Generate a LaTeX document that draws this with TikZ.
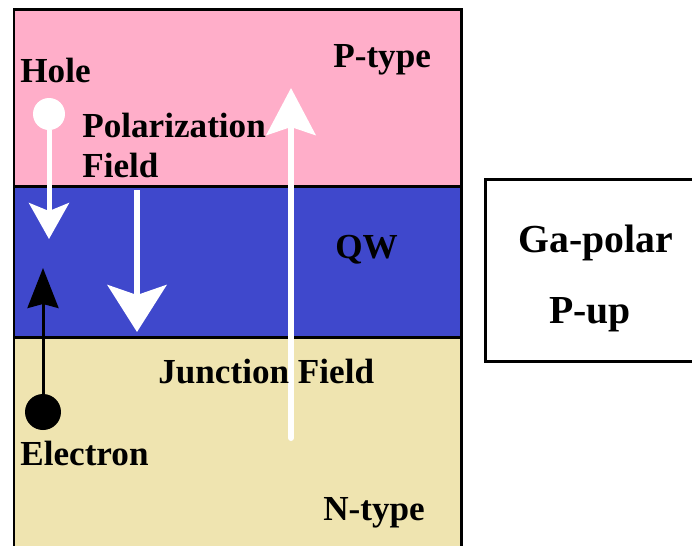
\documentclass[tikz,border=0pt]{standalone}
\usepackage{fontspec}
\setmainfont{Liberation Serif}
\usetikzlibrary{arrows.meta}

\definecolor{ptype}{RGB}{255,174,201}
\definecolor{qwell}{RGB}{63,72,204}
\definecolor{ntype}{RGB}{239,228,176}

\begin{document}
\begin{tikzpicture}[x=0.02cm,y=-0.02cm,
	lbl/.style={anchor=base west,inner sep=0pt,font=\fontsize{20}{24}\selectfont\bfseries},
	boxlbl/.style={anchor=base,inner sep=0pt,font=\fontsize{22.6}{27}\selectfont\bfseries},
	carrier/.style={circle,inner sep=0pt},
	field/.style={white,line width=0.12cm}]
	\useasboundingbox (0,0) rectangle (692,545);
	\clip (0,0) rectangle (692,545);
	% layers: p-type, quantum well, n-type
	\filldraw[fill=ptype,line width=0.06cm] (14,9) rectangle (461,186);
	\filldraw[fill=qwell,line width=0.06cm] (14,186) rectangle (461,337);
	\filldraw[fill=ntype,line width=0.06cm] (14,337) rectangle (461,580);
	% side box
	\node[draw,line width=0.06cm,minimum width=4.32cm,minimum height=3.66cm] (polarity) at (593,270.5) {};
	\node[boxlbl] (gapolar) at (596,252) {Ga-polar};
	\node[boxlbl] (pup) at (590,323) {P-up};
	% carriers
	\node[carrier,fill=white,minimum size=0.64cm] (hole) at (49,114) {};
	\node[carrier,fill=black,minimum size=0.72cm] (electron) at (43,412) {};
	\path
	(49,239) coordinate (holetip)
	(43,268) coordinate (electip)
	(137,190) coordinate (polA)
	(137,332) coordinate (polB)
	(291,438) coordinate (jfA)
	(291,88) coordinate (jfB)
	;
	\draw[white,line width=0.1cm,-{Stealth[length=0.72cm,width=0.8cm,inset=0.16cm]}] (hole) -- (holetip);
	\draw[line width=0.06cm,-{Stealth[length=0.8cm,width=0.62cm,inset=0.08cm]}] (electron) -- (electip);
	\draw[field,-{Stealth[length=0.94cm,width=1.18cm,inset=0.2cm]}] (polA) -- (polB);
	\draw[field,line cap=round,-{Stealth[length=0.94cm,width=0.98cm,inset=0.16cm]}] (jfA) -- (jfB);
	% labels
	\node[lbl] (holelbl) at (20,82) {Hole};
	\node[lbl] (ptypelbl) at (333,67) {P-type};
	\node[lbl] (polA1) at (82,137) {Polarization};
	\node[lbl] (polA2) at (82,177) {Field};
	\node[lbl] (qwlbl) at (335,258) {QW};
	\node[lbl] (jflbl) at (158,383) {Junction Field};
	\node[lbl] (eleclbl) at (20,465) {Electron};
	\node[lbl] (ntypelbl) at (323,520) {N-type};
\end{tikzpicture}
\end{document}
